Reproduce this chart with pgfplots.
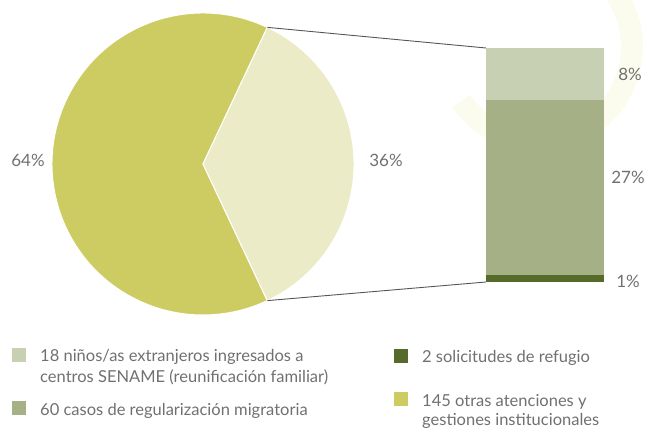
\documentclass[border=0pt]{standalone}
\usepackage{pgfplots}
\pgfplotsset{compat=1.18}
\usepackage{fontspec}
\setmainfont{Lato}
\definecolor{cYel}{HTML}{CDCC62}
\definecolor{cPale}{HTML}{EBEBC8}
\definecolor{cLight}{HTML}{C8D0B3}
\definecolor{cMid}{HTML}{A5B087}
\definecolor{cDark}{HTML}{566A2A}
\definecolor{cText}{HTML}{707070}
\definecolor{cLine}{HTML}{555555}
\definecolor{cWm}{HTML}{FCFCEE}
\begin{document}
\begin{tikzpicture}
\path[use as bounding box, clip] (0,0) rectangle (647bp,429bp);
% pie (values 64 and 36), axis in pixel units, y up
\begin{axis}[at={(0,0)}, anchor=south west, scale only axis,
  width=647bp, height=429bp, xmin=0, xmax=647, ymin=0, ymax=429,
  hide axis, clip=false]
  % faint watermark ring
  \draw[line width=22bp, cWm] (axis cs:538,382) ++(-145:94bp) arc[start angle=-145, end angle=95, radius=94bp];
  \pgfmathsetmacro{\half}{36*3.6/2}
  \fill[cYel, draw=white, line width=1pt] (axis cs:203,265) -- ++(\half:151bp) arc[start angle=\half, end angle=360-\half, radius=151bp] -- cycle;
  \fill[cPale, draw=white, line width=1pt] (axis cs:203,265) -- ++(-\half:151bp) arc[start angle=-\half, end angle=\half, radius=151bp] -- cycle;
  \draw[cLine, line width=0.9pt] (axis cs:203,265) ++(\half:151bp) -- (axis cs:486,381);
  \draw[cLine, line width=0.9pt] (axis cs:203,265) ++(-\half:151bp) -- (axis cs:486,147);
  \node[cText, font=\fontsize{17bp}{19bp}\selectfont] at (axis cs:28,269) {64\%};
  \node[cText, font=\fontsize{17bp}{19bp}\selectfont] at (axis cs:386,269) {36\%};
  \node[cText, font=\fontsize{17bp}{19bp}\selectfont] at (axis cs:630,355) {8\%};
  \node[cText, font=\fontsize{17bp}{19bp}\selectfont] at (axis cs:628,252) {27\%};
  \node[cText, font=\fontsize{17bp}{19bp}\selectfont] at (axis cs:628,148) {1\%};
  % legend
  \fill[cLight] (axis cs:12,81) rectangle (axis cs:26,67);
  \fill[cMid] (axis cs:12,28) rectangle (axis cs:26,14);
  \fill[cDark] (axis cs:394,80) rectangle (axis cs:408,66);
  \fill[cYel] (axis cs:394,37) rectangle (axis cs:408,23);
  \begin{scope}[every node/.style={cText, anchor=base west, inner sep=0pt, font=\fontsize{16.5bp}{19bp}\selectfont}]
  \node at (axis cs:40,67) {18 niños/as extranjeros ingresados a};
  \node at (axis cs:40,46) {centros SENAME (reunificación familiar)};
  \node at (axis cs:40,14) {60 casos de regularización migratoria};
  \node at (axis cs:422,66) {2 solicitudes de refugio};
  \node at (axis cs:422,23) {145 otras atenciones y};
  \node at (axis cs:422,4) {gestiones institucionales};
  \end{scope}
\end{axis}
% bar of pie: breakdown of the 36%
\begin{axis}[at={(486bp,147bp)}, anchor=south west, scale only axis,
  width=118bp, height=234bp, xmin=0, xmax=1, ymin=0, ymax=36,
  hide axis, ybar stacked, bar width=118bp]
  \addplot[fill=cDark, draw=none] coordinates {(0.5,1)};
  \addplot[fill=cMid, draw=none] coordinates {(0.5,27)};
  \addplot[fill=cLight, draw=none] coordinates {(0.5,8)};
\end{axis}
\end{tikzpicture}
\end{document}
